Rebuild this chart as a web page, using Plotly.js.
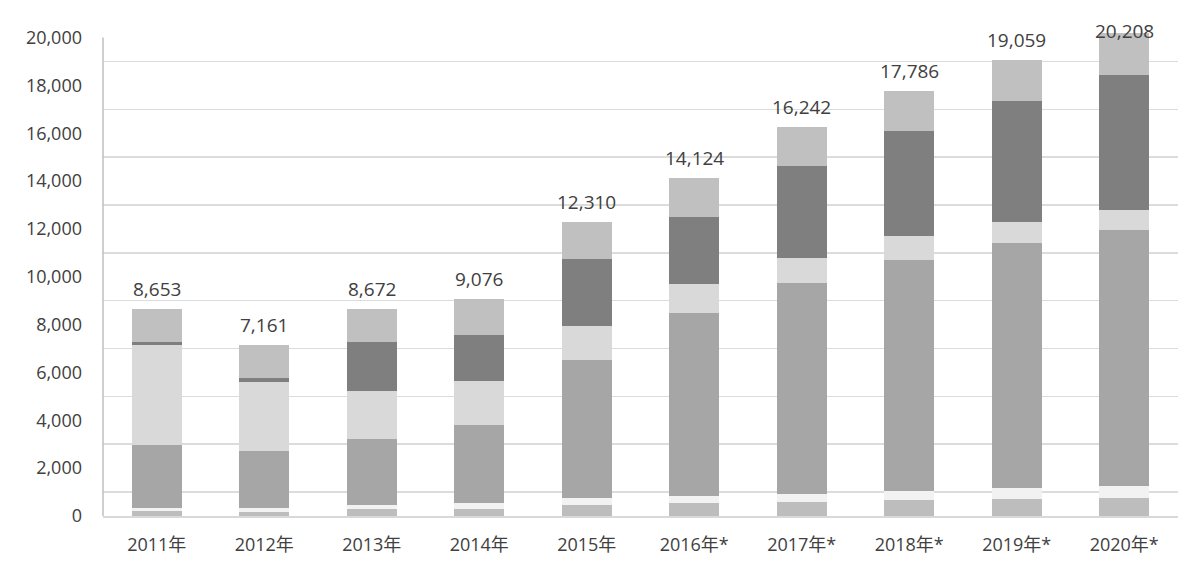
<!DOCTYPE html>
<html>
<head>
<meta charset="utf-8">
<script src="https://cdn.plot.ly/plotly-3.0.1.min.js"></script>
<style>
html,body{margin:0;padding:0;background:#fff;}
#chart{width:1194px;height:578px;}
</style>
</head>
<body>
<div id="chart"></div>
<script>
// Categories (x-axis tick labels)
const years = ["2011年","2012年","2013年","2014年","2015年","2016年*","2017年*","2018年*","2019年*","2020年*"];

// Stacked segments, bottom to top
const seg1 = [220, 170, 280, 310, 470, 530, 580, 665, 710, 765];
const seg2 = [110, 150, 170, 230, 280, 310, 330, 390, 445, 485];
const seg3 = [2657, 2402, 2786, 3252, 5792, 7632, 8812, 9653, 10248, 10694];
const seg4 = [4167, 2875, 1972, 1833, 1416, 1222, 1084, 1000, 889, 848];
const seg5 = [140, 166, 2056, 1944, 2778, 2820, 3819, 4375, 5041, 5652];
const seg6 = [1359, 1398, 1408, 1507, 1574, 1610, 1617, 1703, 1726, 1764];

// Total labels
const totals = [8653, 7161, 8672, 9076, 12310, 14124, 16242, 17786, 19059, 20208];

// Y-axis ticks
const yTicks = [0, 2000, 4000, 6000, 8000, 10000, 12000, 14000, 16000, 18000, 20000];
const yMax = 20000;
const yTop = 20400;

const segs = [seg1, seg2, seg3, seg4, seg5, seg6];
const colors = ["#bdbdbd", "#f2f2f2", "#a6a6a6", "#d9d9d9", "#7f7f7f", "#c0c0c0"];

const traces = segs.map((s, i) => ({
  type: "bar",
  x: years,
  y: s,
  marker: {color: colors[i], line: {width: 0}},
  hoverinfo: "skip",
  showlegend: false
}));
// empty helper trace so the grid-only overlay axis is drawn
traces.push({type: "scatter", x: [], y: [], yaxis: "y2", showlegend: false, hoverinfo: "skip"});

const fmt = v => v.toLocaleString("en-US");
const textColor = "#404040";
const fontFam = "Open Sans, Noto Sans CJK JP, sans-serif";

const annotations = totals.map((t, i) => ({
  x: years[i],
  y: t,
  xref: "x",
  yref: "y",
  text: fmt(t),
  showarrow: false,
  yanchor: "middle",
  yshift: t > yMax ? 2 : 20,
  font: {family: fontFam, size: 19, color: textColor}
}));

const layout = {
  width: 1194,
  height: 578,
  margin: {l: 103, r: 16, t: 28, b: 62},
  paper_bgcolor: "#ffffff",
  plot_bgcolor: "#ffffff",
  barmode: "stack",
  bargap: 0.535,
  showlegend: false,
  xaxis: {
    type: "category",
    showgrid: false,
    showline: true,
    linecolor: "#d9d9d9",
    linewidth: 1.5,
    ticks: "",
    ticklabelstandoff: 12,
    tickfont: {family: fontFam, size: 18, color: textColor},
    zeroline: false,
    fixedrange: true
  },
  yaxis: {
    range: [0, yTop],
    tickvals: yTicks,
    ticktext: yTicks.map(fmt),
    showgrid: false,
    showline: false,
    ticks: "",
    ticklabelstandoff: 20,
    tickfont: {family: fontFam, size: 18, color: textColor},
    zeroline: false,
    fixedrange: true
  },
  yaxis2: {
    overlaying: "y",
    anchor: "x",
    side: "left",
    range: [0, yTop],
    tickmode: "linear",
    tick0: 1000,
    dtick: 2000,
    showgrid: true,
    gridcolor: "#dcdcdc",
    gridwidth: 1.5,
    showticklabels: false,
    ticks: "",
    showline: false,
    zeroline: false,
    fixedrange: true
  },
  shapes: [{
    type: "line",
    xref: "paper", x0: 0, x1: 0,
    yref: "y", y0: 0, y1: yMax,
    line: {color: "#bfbfbf", width: 1.5},
    layer: "above"
  }],
  annotations: annotations
};

Plotly.newPlot("chart", traces, layout, {displayModeBar: false, staticPlot: true});
</script>
</body>
</html>
